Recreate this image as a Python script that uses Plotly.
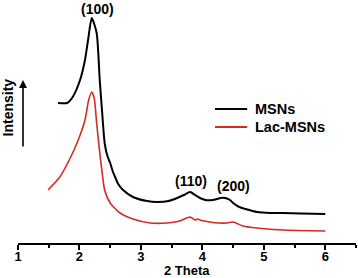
import plotly.graph_objects as go

# MSNs (black)
msn_x = [1.65, 1.80, 1.89, 2.01, 2.09, 2.14, 2.20, 2.28, 2.33, 2.37, 2.41, 2.45, 2.50, 2.54, 2.58,
         2.63, 2.71, 2.87, 3.10, 3.26, 3.45, 3.59, 3.70, 3.80, 3.88, 3.96, 4.05, 4.17, 4.30, 4.37,
         4.45, 4.50, 4.60, 4.70, 4.89, 5.10, 5.31, 5.60, 6.00]
msn_y = [140, 140, 146, 163, 183, 203, 225, 210, 163, 130, 100, 88, 80, 72, 66,
         59, 53, 46, 42, 41, 42, 45, 48, 51, 48, 45, 43, 43, 45, 45,
         43, 40, 36, 34, 31, 30, 30, 29.5, 29]

# Lac-MSNs (red)
lac_x = [1.49, 1.68, 1.85, 1.98, 2.09, 2.15, 2.20, 2.24, 2.28, 2.32, 2.37, 2.41, 2.50, 2.66, 2.87,
         3.15, 3.42, 3.63, 3.80, 3.88, 3.92, 3.96, 4.12, 4.28, 4.40, 4.50, 4.66, 4.89, 5.31, 6.00]
lac_y = [53, 66, 85, 103, 123, 143, 151, 145, 120, 96, 70, 53, 40, 30, 24,
         20, 20, 22, 26, 23, 24, 23, 21, 20, 20, 21, 17, 15, 13, 12]

x_ticks = [1, 2, 3, 4, 5, 6]
peak_labels = ["(100)", "(110)", "(200)"]
peak_x = [2.30, 3.81, 4.51]
peak_y = [234, 62, 57]
series_names = ["MSNs", "Lac-MSNs"]
series_colors = ["black", "#d42a20"]

FONT = "Liberation Sans, Arial, sans-serif"

fig = go.Figure()
fig.add_trace(go.Scatter(x=msn_x, y=msn_y, mode="lines", name=series_names[0],
                         line=dict(color=series_colors[0], width=2, shape="spline", smoothing=0.6)))
fig.add_trace(go.Scatter(x=lac_x, y=lac_y, mode="lines", name=series_names[1],
                         line=dict(color=series_colors[1], width=1.6, shape="spline", smoothing=0.6)))

for t, px, py in zip(peak_labels, peak_x, peak_y):
    fig.add_annotation(x=px, y=py, text="<b>%s</b>" % t, showarrow=False,
                       font=dict(family=FONT, size=14, color="black"))

# manual legend
for i, (nm, col) in enumerate(zip(series_names, series_colors)):
    yy = 0.551 - i * 0.074
    fig.add_shape(type="line", xref="paper", yref="paper", x0=0.583, x1=0.678, y0=yy, y1=yy,
                  line=dict(color=col, width=2))
    fig.add_annotation(xref="paper", yref="paper", x=0.695, y=yy, xanchor="left", yanchor="middle",
                       text="<b>%s</b>" % nm, showarrow=False,
                       font=dict(family=FONT, size=14.5, color="black"))

# Intensity arrow and label
fig.add_annotation(xref="paper", yref="paper", x=0.0148, y=0.671, ax=0, ay=68,
                   showarrow=True, arrowhead=2, arrowsize=1, arrowwidth=1.6,
                   arrowcolor="black", text="")
fig.add_annotation(xref="paper", yref="paper", x=-0.031, y=0.556, text="<b>Intensity</b>",
                   textangle=-90, showarrow=False, xanchor="center", yanchor="middle",
                   font=dict(family=FONT, size=14, color="black"))

# x-axis title
fig.add_annotation(xref="paper", yref="paper", x=0.5, y=-0.113, text="<b>2 Theta</b>",
                   showarrow=False, yanchor="middle", borderpad=0,
                   font=dict(family=FONT, size=13, color="black"))

fig.update_layout(
    width=358, height=278,
    margin=dict(l=18, r=2, t=0, b=35, autoexpand=False),
    paper_bgcolor="white", plot_bgcolor="white",
    font=dict(family=FONT, color="black"),
    showlegend=False,
    xaxis=dict(range=[1, 6.5], tickvals=x_ticks, ticktext=["<b>%d</b>" % v for v in x_ticks],
               showgrid=False, zeroline=False, showline=True, linecolor="black", linewidth=2,
               ticks="outside", ticklen=5, tickwidth=2, tickcolor="black", automargin=False,
               ticklabelstandoff=-5,
               tickfont=dict(family=FONT, size=13, color="black"),
               minor=dict(dtick=0.5, tick0=1, ticks="outside", ticklen=3, tickwidth=2, tickcolor="black")),
    yaxis=dict(range=[0, 243], visible=False),
)

fig.write_html("out.html", config={"displayModeBar": False},
               post_script="document.body.style.margin='0';document.body.style.overflow='hidden';")
